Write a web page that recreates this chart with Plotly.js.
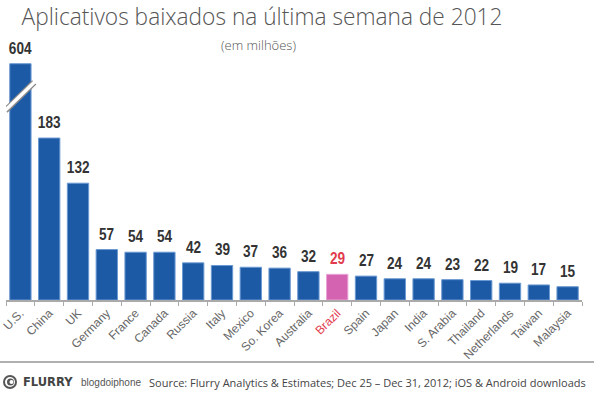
<!DOCTYPE html>
<html>
<head>
<meta charset="utf-8">
<script src="https://cdn.plot.ly/plotly-3.0.1.min.js"></script>
<style>html,body{margin:0;padding:0;background:#fff;}#chart{width:594px;height:397px;}</style>
</head>
<body>
<div id="chart"></div>
<script>
// ---- data ----
const categories = ['U.S.','China','UK','Germany','France','Canada','Russia','Italy','Mexico','So. Korea','Australia','Brazil','Spain','Japan','India','S. Arabia','Thailand','Netherlands','Taiwan','Malaysia'];
const downloads = [604,183,132,57,54,54,42,39,37,36,32,29,27,24,24,23,22,19,17,15];
const highlight = 'Brazil';
const titleText = 'Aplicativos baixados na última semana de 2012';
const subtitleText = '(em milhões)';
const sourceText = 'Source: Flurry Analytics &amp; Estimates; Dec 25 – Dec 31, 2012; iOS &amp; Android downloads';
const brandText = 'FLURRY';
const blogText = 'blogdoiphone';

// ---- styling / layout constants ----
const W = 594, H = 397;
const M = {l: 6, r: 12, t: 50, b: 97};
const BREAK_CAP = 267;      // drawn height of the broken (axis-break) bar
const Y_MAX = 282.5;
const BLUE = '#1d5aa6', BLUE_EDGE = '#6a98d2';
const PINK = '#d463b2', PINK_EDGE = '#eaa3d6';
const RED_TXT = '#e23b4e';
const TITLE_WIDTH = 481;    // condensed title width (px)
const LABEL_SQUEEZE = 0.8;  // narrow look for value labels
const pw = W - M.l - M.r, ph = H - M.t - M.b;
const px2x = p => (p - M.l) / pw;
const py2y = p => (H - M.b - p) / ph;

const shown = downloads.map(v => Math.min(v, BREAK_CAP));
const isHi = categories.map(c => c === highlight);

const trace = {
  type: 'bar',
  x: categories,
  y: shown,
  width: 0.74,
  marker: {
    color: isHi.map(h => h ? PINK : BLUE),
    line: {color: isHi.map(h => h ? PINK_EDGE : BLUE_EDGE), width: 1}
  },
  hoverinfo: 'skip'
};

const sans = "'Liberation Sans', Arial, sans-serif";
const annotations = categories.map((c, i) => ({
  x: c, y: shown[i], xref: 'x', yref: 'y',
  text: String(downloads[i]), showarrow: false,
  yanchor: 'bottom', yshift: 4,
  font: {family: sans, size: 17, weight: 700, color: isHi[i] ? RED_TXT : '#333333'}
}));

annotations.push({
  xref: 'paper', yref: 'paper', x: px2x(258), y: py2y(45),
  text: subtitleText, showarrow: false, xanchor: 'center', yanchor: 'middle',
  font: {family: "'Open Sans', sans-serif", size: 13, weight: 300, color: '#555'}
});
annotations.push({
  xref: 'paper', yref: 'paper', x: px2x(21), y: py2y(382),
  text: '<b>' + brandText + '</b>', showarrow: false, xanchor: 'left', yanchor: 'middle',
  font: {family: "'DejaVu Sans', Verdana, sans-serif", size: 11.5, color: '#444'}
});
annotations.push({
  xref: 'paper', yref: 'paper', x: px2x(79), y: py2y(382),
  text: blogText, showarrow: false, xanchor: 'left', yanchor: 'middle',
  font: {family: sans, size: 10, color: '#555'}
});
annotations.push({
  xref: 'paper', yref: 'paper', x: px2x(588), y: py2y(382),
  text: sourceText, showarrow: false, xanchor: 'right', yanchor: 'middle',
  font: {family: "'Open Sans', 'Noto Sans', sans-serif", size: 11, color: '#444'}
});

const shapes = [
  // axis-break marks on the tallest bar
  {type: 'line', xref: 'x', yref: 'y', x0: -0.52, x1: 0.48, y0: 214, y1: 246, line: {color: '#8a8a8a', width: 6}},
  {type: 'line', xref: 'x', yref: 'y', x0: -0.55, x1: 0.5, y0: 213.5, y1: 246.5, line: {color: '#ffffff', width: 3.5}},
  // footer rule
  {type: 'line', xref: 'paper', yref: 'paper', x0: px2x(0), x1: px2x(W), y0: py2y(362), y1: py2y(362), line: {color: '#b0b0b0', width: 2}},
  // logo
  {type: 'circle', xref: 'paper', yref: 'paper', x0: px2x(3), x1: px2x(17), y0: py2y(389), y1: py2y(375), fillcolor: '#555', line: {width: 0}},
  {type: 'circle', xref: 'paper', yref: 'paper', x0: px2x(5), x1: px2x(15), y0: py2y(387), y1: py2y(377), fillcolor: '#fff', line: {width: 0}},
  {type: 'circle', xref: 'paper', yref: 'paper', x0: px2x(7), x1: px2x(14), y0: py2y(385.5), y1: py2y(378.5), fillcolor: '#555', line: {width: 0}},
  {type: 'circle', xref: 'paper', yref: 'paper', x0: px2x(9.5), x1: px2x(13.5), y0: py2y(384), y1: py2y(380), fillcolor: '#fff', line: {width: 0}}
];

const layout = {
  width: W, height: H,
  margin: M,
  paper_bgcolor: '#fff', plot_bgcolor: '#fff',
  showlegend: false,
  title: {
    text: titleText, xref: 'container', yref: 'container',
    x: 262 / W, xanchor: 'center', y: 1 - 17 / H, yanchor: 'middle',
    font: {family: "'Open Sans', sans-serif", size: 24, weight: 300, color: '#555'}
  },
  xaxis: {
    type: 'category', range: [-0.5, categories.length - 0.5],
    tickmode: 'array', tickvals: categories,
    ticktext: categories.map((c, i) => isHi[i] ? '<span style="color:' + RED_TXT + '">' + c + '</span>' : c),
    tickangle: -45, tickson: 'boundaries', ticks: 'outside', ticklen: 4, tickcolor: '#aaa',
    showline: true, linecolor: '#aaa', linewidth: 1.5, showgrid: false, zeroline: false,
    tickfont: {family: sans, size: 12, color: '#666'},
    fixedrange: true
  },
  yaxis: {
    range: [0, Y_MAX], visible: false, showgrid: false, zeroline: false, fixedrange: true
  },
  annotations: annotations,
  shapes: shapes
};

Plotly.newPlot('chart', [trace], layout, {displayModeBar: false, staticPlot: true}).then(gd => {
  // condense the title to the reference width
  const t = gd.querySelector('.gtitle');
  if (t) {
    t.setAttribute('textLength', TITLE_WIDTH);
    t.setAttribute('lengthAdjust', 'spacingAndGlyphs');
  }
  // give the value labels a narrow face
  const texts = gd.querySelectorAll('.annotation-text');
  for (let i = 0; i < categories.length && i < texts.length; i++) {
    const el = texts[i];
    const len = el.getComputedTextLength();
    el.setAttribute('textLength', (len * LABEL_SQUEEZE).toFixed(2));
    el.setAttribute('lengthAdjust', 'spacingAndGlyphs');
  }
});
</script>
</body>
</html>
